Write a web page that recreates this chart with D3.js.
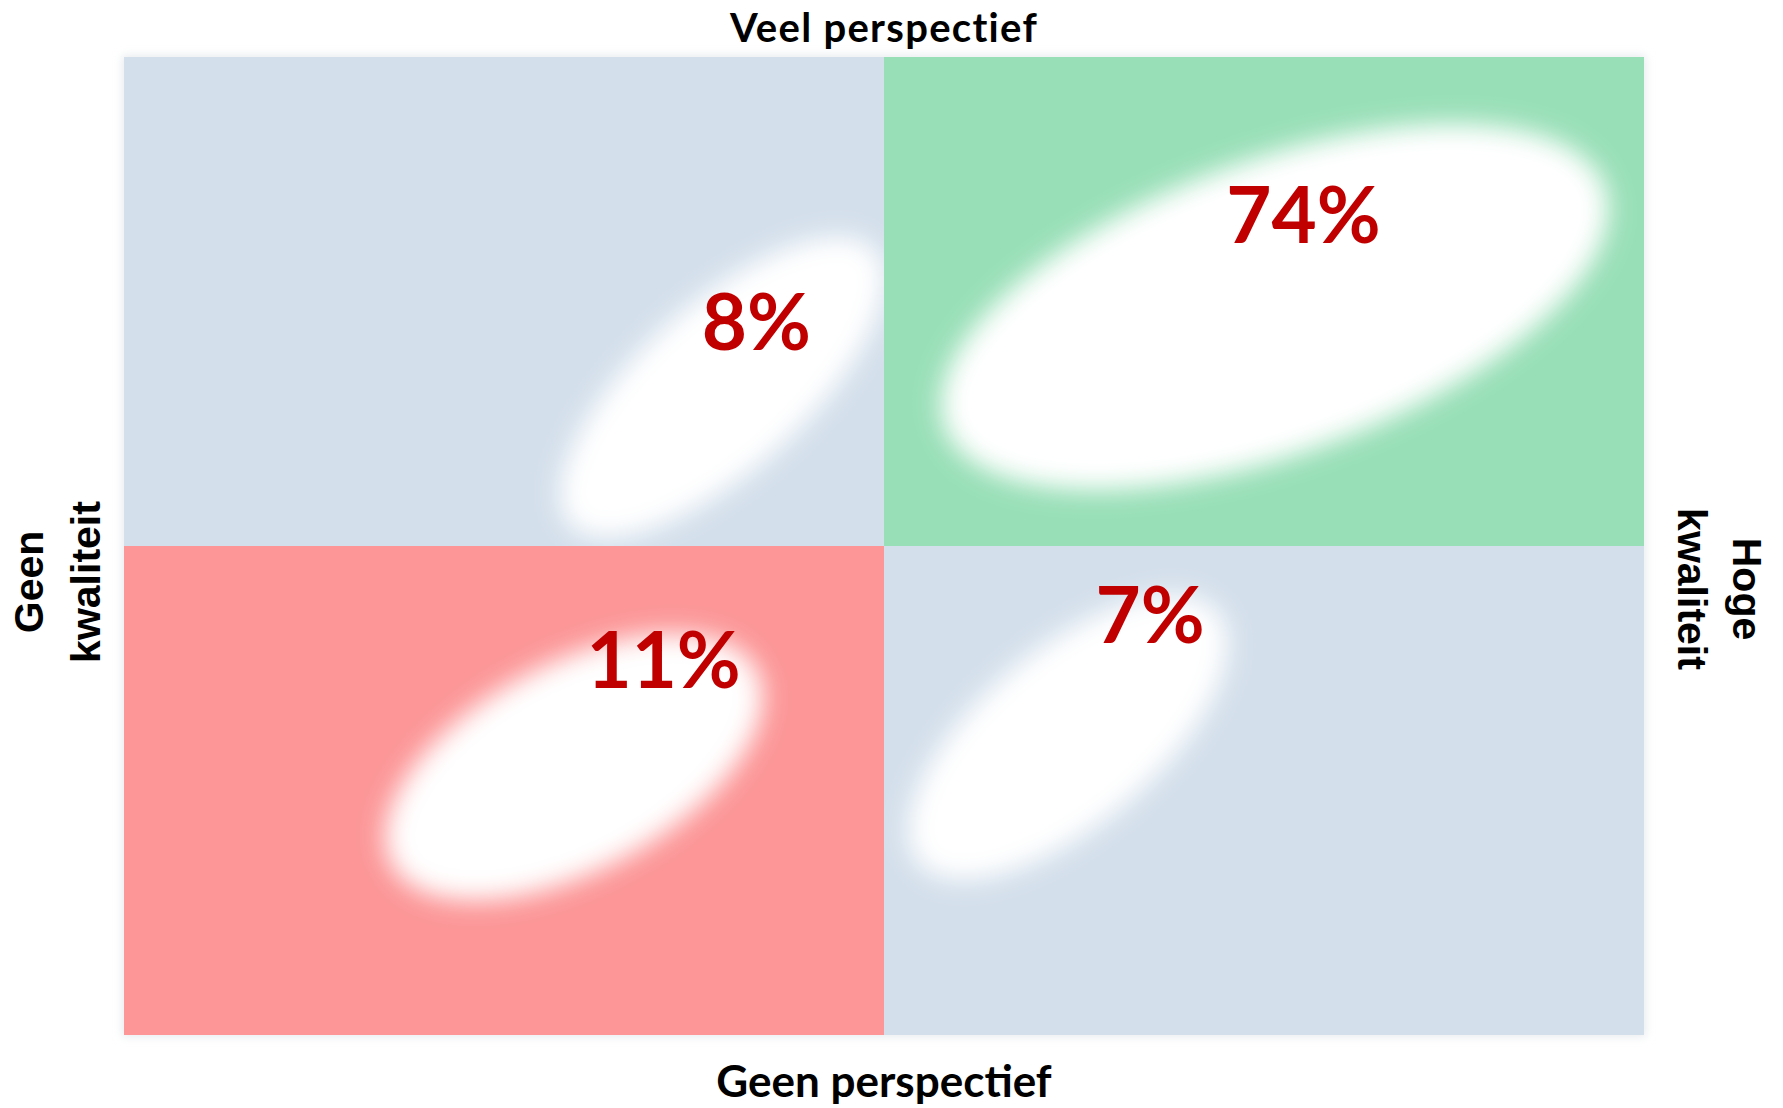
<!DOCTYPE html>
<html>
<head>
<meta charset="utf-8">
<script src="https://cdn.jsdelivr.net/npm/d3@7"></script>
<style>
  html, body { margin: 0; padding: 0; background: #ffffff; }
  svg { display: block; }
</style>
</head>
<body>
<script>
// ---- data ----
const quadrants = ["Weinig kwaliteit, veel perspectief", "Hoge kwaliteit, veel perspectief",
                   "Geen kwaliteit, geen perspectief", "Hoge kwaliteit, geen perspectief"];
const shares = [8, 74, 11, 7];                 // percentages
const colCats = ["Geen kwaliteit", "Hoge kwaliteit"];
const rowCats = ["Veel perspectief", "Geen perspectief"];
const quadCol = [0, 1, 0, 1];
const quadRow = [0, 0, 1, 1];
const quadColors = ["#d3dfeb", "#98dfb7", "#fc9697", "#d3dfeb"];
// blob layout in quadrant-units (0..2 across, 0..2 down)
const blobCx = [0.787, 1.514, 0.592, 1.242];
const blobCy = [0.675, 0.511, 1.452, 1.391];
const blobRx = [0.270, 0.462, 0.272, 0.257];
const blobRy = [0.170, 0.300, 0.212, 0.180];
const blobAngle = [-42, -20, -28, -40];
const labelX = [0.832, 1.552, 0.710, 1.350];
const labelY = [0.600, 0.380, 1.290, 1.198];

const W = 1783, H = 1108;
const svg = d3.select("body").append("svg").attr("width", W).attr("height", H);

const xb = d3.scaleBand().domain(colCats).range([124, 1644]);
const yb = d3.scaleBand().domain(rowCats).range([57, 1035]);
const xu = d3.scaleLinear().domain([0, 2]).range([124, 1644]);
const yu = d3.scaleLinear().domain([0, 2]).range([57, 1035]);

const defs = svg.append("defs");
const f = defs.append("filter").attr("id", "blur")
  .attr("x", "-50%").attr("y", "-50%").attr("width", "200%").attr("height", "200%");
f.append("feGaussianBlur").attr("stdDeviation", 13);

const sh = defs.append("filter").attr("id", "shadow")
  .attr("x", "-5%").attr("y", "-5%").attr("width", "110%").attr("height", "110%");
sh.append("feGaussianBlur").attr("stdDeviation", 4);

quadrants.forEach((q, i) => {
  defs.append("clipPath").attr("id", "clip" + i)
    .append("rect")
    .attr("x", xb(colCats[quadCol[i]])).attr("y", yb(rowCats[quadRow[i]]))
    .attr("width", xb.bandwidth()).attr("height", yb.bandwidth());
});

// faint shadow
svg.append("rect")
  .attr("x", xb.range()[0] - 2).attr("y", yb.range()[0] - 2)
  .attr("width", xb.range()[1] - xb.range()[0] + 4)
  .attr("height", yb.range()[1] - yb.range()[0] + 4)
  .attr("fill", "#e8ecef").attr("filter", "url(#shadow)");

const g = svg.append("g");
g.selectAll("rect.quad").data(quadrants).join("rect").attr("class", "quad")
  .attr("x", (d, i) => xb(colCats[quadCol[i]]))
  .attr("y", (d, i) => yb(rowCats[quadRow[i]]))
  .attr("width", xb.bandwidth())
  .attr("height", yb.bandwidth())
  .attr("fill", (d, i) => quadColors[i]);

g.selectAll("g.blob").data(quadrants).join("g").attr("class", "blob")
  .attr("clip-path", (d, i) => `url(#clip${i})`)
  .append("ellipse")
  .attr("cx", 0).attr("cy", 0)
  .attr("rx", (d, i) => xu(blobRx[i]) - xu(0))
  .attr("ry", (d, i) => yu(blobRy[i]) - yu(0))
  .attr("transform", (d, i) => `translate(${xu(blobCx[i])},${yu(blobCy[i])}) rotate(${blobAngle[i]})`)
  .attr("fill", "#ffffff")
  .attr("filter", "url(#blur)");

g.selectAll("text.pct").data(shares).join("text").attr("class", "pct")
  .attr("x", (d, i) => xu(labelX[i]))
  .attr("y", (d, i) => yu(labelY[i]))
  .attr("text-anchor", "middle")
  .attr("font-family", "Lato, 'Open Sans', sans-serif")
  .attr("font-weight", 700)
  .attr("font-size", 78)
  .attr("fill", "#c00000")
  .text(d => d + "%");

// axis titles
svg.append("text")
  .attr("x", d3.mean(xb.range())).attr("y", 42)
  .attr("text-anchor", "middle")
  .attr("font-family", "Lato, 'Open Sans', sans-serif").attr("font-weight", 700)
  .attr("font-size", 40).attr("letter-spacing", 1.3).attr("fill", "#000")
  .text(rowCats[0]);
svg.append("text")
  .attr("x", d3.mean(xb.range())).attr("y", 1097)
  .attr("text-anchor", "middle")
  .attr("font-family", "Lato, 'Open Sans', sans-serif").attr("font-weight", 700)
  .attr("font-size", 44).attr("fill", "#000")
  .text(rowCats[1]);

const leftWords = colCats[0].split(" ");
const rightWords = colCats[1].split(" ");
const leftT = svg.append("text")
  .attr("transform", "translate(43,582) rotate(-90)")
  .attr("text-anchor", "middle")
  .attr("font-family", "'Liberation Sans', Arial, sans-serif").attr("font-weight", 700)
  .attr("font-size", 41).attr("fill", "#000");
leftWords.forEach((w, i) => leftT.append("tspan").attr("x", 0).attr("y", i * 57).text(w));

const rightT = svg.append("text")
  .attr("transform", "translate(1733,589) rotate(90)")
  .attr("text-anchor", "middle")
  .attr("font-family", "'Liberation Sans', Arial, sans-serif").attr("font-weight", 700)
  .attr("font-size", 41).attr("fill", "#000");
rightWords.forEach((w, i) => rightT.append("tspan").attr("x", 0).attr("y", i * 55).text(w));
</script>
</body>
</html>
